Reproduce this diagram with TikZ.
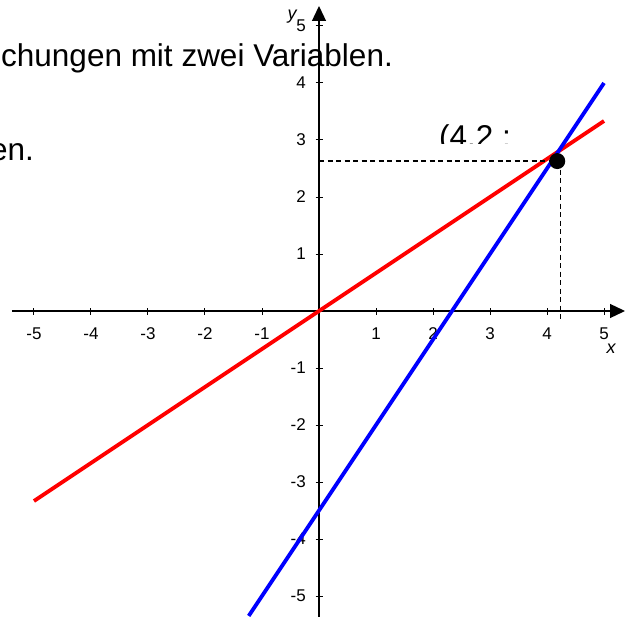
\documentclass[tikz,border=0pt]{standalone}
\usepackage{fontspec}
\setmainfont{Liberation Sans}
\usetikzlibrary{arrows.meta}
\begin{document}
\begin{tikzpicture}[x=57pt,y=57pt,
  axis/.style={line width=1.3pt, -{Triangle[length=15pt,width=14pt]}},
  tickmark/.style={line width=1pt},
  ticklab/.style={font=\fontsize{17}{17}\selectfont, inner sep=0pt},
  varlab/.style={font=\fontsize{18}{18}\selectfont\itshape, inner sep=0pt},
  big/.style={font=\fontsize{31.5}{31.5}\selectfont, inner sep=0pt},
  graphline/.style={line width=3.8pt},
  guide/.style={line width=1.2pt, dash pattern=on 5pt off 3.5pt}]
\useasboundingbox (-319pt,-305pt) rectangle (312pt,311pt);
% axes
\coordinate (xs) at (-307pt,0);
\coordinate (xe) at (306pt,0);
\coordinate (ys) at (0,-306pt);
\coordinate (ye) at (0,305pt);
\draw[axis] (xs) -- (xe);
\draw[axis] (ys) -- (ye);
% ticks and labels
\foreach \i in {-5,...,-1,1,2,...,5}{
  \draw[tickmark] (\i,-3.5pt) -- (\i,3.5pt);
  \draw[tickmark] (-3.5pt,\i) -- (3.5pt,\i);
  \node[ticklab] (xl\i) at ([yshift=-23pt]\i,0) {\i};
  \node[ticklab, anchor=east] (yl\i) at ([xshift=-13pt]0,\i) {\i};
}
\node[varlab] (ylab) at (-27pt,294pt) {y};
\node[varlab] (xlab) at (292pt,-38pt) {x};
% text
\node[big, anchor=base west] (t1) at (-318pt,244.3pt) {chungen mit zwei Variablen.};
\node[big, anchor=base east] (t2) at (-285pt,150pt) {en.};
\begin{scope}
  \clip (100pt,167.7pt) rectangle (220pt,210pt);
  \node[big, anchor=base west] (t3) at (120pt,163pt) {(4.2 ;};
\end{scope}
% graphs
\draw[graphline, red] (-5,-10/3) -- (5,10/3);
\draw[graphline, blue] (-1.233,-5.35) -- (5,4);
% point and guides
\node[circle, fill=black, inner sep=0pt, minimum size=16pt] (P) at (4.18,2.63) {};
\coordinate (hy) at (0,2.63);
\coordinate (vt) at (4.24,2.63);
\coordinate (vb) at (4.24,-11pt);
\draw[guide] (hy) -- (P.center);
\draw[guide] (vt) -- (vb);
\end{tikzpicture}
\end{document}
